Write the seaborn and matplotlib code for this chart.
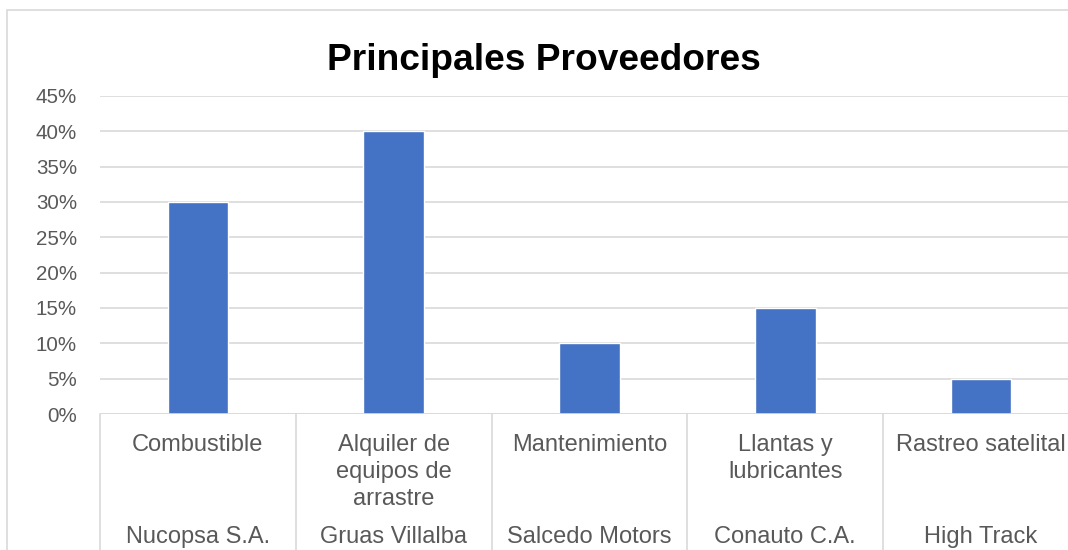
import matplotlib
matplotlib.use("Agg")
import matplotlib.pyplot as plt
import matplotlib.transforms as mtransforms
from matplotlib.patches import Rectangle
from matplotlib.lines import Line2D
import seaborn as sns
import pandas as pd

categories = ["Combustible", "Alquiler de\nequipos de\narrastre", "Mantenimiento",
              "Llantas y\nlubricantes", "Rastreo satelital"]
providers = ["Nucopsa S.A.", "Gruas Villalba", "Salcedo Motors", "Conauto C.A.", "High Track"]
values = [0.30, 0.40, 0.10, 0.15, 0.05]
yticks = [0, 0.05, 0.10, 0.15, 0.20, 0.25, 0.30, 0.35, 0.40, 0.45]
ytick_labels = ["0%", "5%", "10%", "15%", "20%", "25%", "30%", "35%", "40%", "45%"]
title = "Principales Proveedores"

sns.set_theme(style="white")
plt.rcParams['font.family'] = ['Liberation Sans', 'DejaVu Sans']

W, H = 1068, 550
fig = plt.figure(figsize=(W / 100, H / 100), dpi=100)

def px(x0, y0, x1, y1):
    return [x0 / W, 1 - y1 / H, (x1 - x0) / W, (y1 - y0) / H]

ax = fig.add_axes(px(100, 96, 1079, 414))

df = pd.DataFrame({"cat": [str(i) for i in range(len(values))], "val": values})
sns.barplot(data=df, x="cat", y="val", color="#4472C4", width=0.31, ax=ax,
            saturation=1, zorder=3)

ax.set_ylim(0, 0.45)
ax.set_xlim(-0.5, len(values) - 0.5)
ax.set_yticks(yticks)
ax.set_yticklabels(ytick_labels, color="#595959", fontsize=14.8)
ax.set_xticks([])
ax.set_xlabel("")
ax.set_ylabel("")
ax.tick_params(axis="y", length=0, pad=16.5)
ax.grid(axis="y", color="#d9d9d9", linewidth=1.2, zorder=0)
for s in ax.spines.values():
    s.set_visible(False)

# chart border
fig.patches.append(Rectangle((7 / W, -0.1), 1.2, 1 - 10 / H + 0.1, transform=fig.transFigure,
                             fill=False, edgecolor="#d9d9d9", linewidth=1.2, zorder=0))

# baseline
ax.axhline(0, color="#d9d9d9", linewidth=1.2, zorder=4)

# category dividers
trans = mtransforms.blended_transform_factory(ax.transData, fig.transFigure)
for i in range(len(values) + 1):
    xb = i - 0.5
    fig.add_artist(Line2D([xb, xb], [1 - 414 / H, -0.05], transform=trans,
                          color="#d9d9d9", linewidth=1.2, clip_on=False))

for i, (c, p) in enumerate(zip(categories, providers)):
    fig.text(i, 1 - 434 / H, c, transform=trans, ha="center", va="top",
             fontsize=17, color="#595959", linespacing=1.3)
    fig.text(i, 1 - 543 / H, p, transform=trans, ha="center", va="baseline",
             fontsize=17, color="#595959")

fig.text(543.5 / W, 1 - 70 / H, title, ha="center", va="baseline",
         fontsize=26.7, fontweight="bold", color="black")

fig.savefig("out.png", dpi=100)
